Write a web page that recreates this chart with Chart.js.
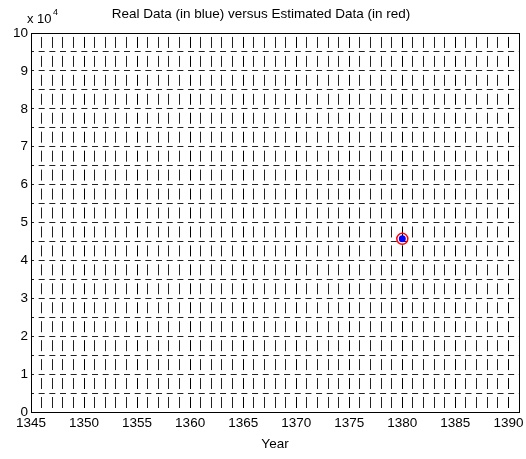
<!DOCTYPE html>
<html>
<head>
<meta charset="utf-8">
<script src="https://cdn.jsdelivr.net/npm/chart.js@4"></script>
<style>
  html, body { margin: 0; padding: 0; background: #fff; }
  canvas { display: block; }
</style>
</head>
<body>
<canvas id="grafico" width="526" height="459"></canvas>
<script>
// dados
const anos = [1380];
const dadosReais = [45700];
const dadosEstimados = [45700];
const anoMin = 1345;
const anoMax = 1391;
const yMax = 100000;

const fonte = "'Liberation Sans', Arial, sans-serif";

// caixa do eixo e o "x 10^4"
const caixaPlugin = {
  id: 'caixa',
  afterDraw(chart) {
    const { ctx, chartArea: a } = chart;
    ctx.save();
    ctx.strokeStyle = '#000';
    ctx.lineWidth = 1;
    ctx.strokeRect(Math.round(a.left) + 0.5, Math.round(a.top) + 0.5,
      Math.round(a.right - a.left), Math.round(a.bottom - a.top));
    ctx.fillStyle = '#000';
    ctx.textBaseline = 'alphabetic';
    ctx.font = '13px ' + fonte;
    ctx.fillText('x 10', 27, 23);
    ctx.font = '9px ' + fonte;
    ctx.fillText('4', 53, 15);
    ctx.restore();
  }
};

const pontos = (ys) => anos.map((x, i) => ({ x, y: ys[i] }));

new Chart(document.getElementById('grafico').getContext('2d'), {
  type: 'scatter',
  data: {
    datasets: [{
      label: 'Estimado',
      data: pontos(dadosEstimados),
      pointRadius: 5.5,
      pointBorderWidth: 1.5,
      pointBorderColor: '#ff0000',
      pointBackgroundColor: 'rgba(0,0,0,0)'
    }, {
      label: 'Real',
      data: pontos(dadosReais),
      pointRadius: 3.5,
      pointBorderWidth: 0,
      pointBackgroundColor: '#0000ff',
      pointBorderColor: '#0000ff'
    }]
  },
  options: {
    responsive: false,
    animation: false,
    layout: { padding: { left: 0, right: 4, top: 0, bottom: 0 } },
    plugins: {
      legend: { display: false },
      tooltip: { enabled: false },
      title: {
        display: true,
        text: 'Real Data (in blue) versus Estimated Data (in red)',
        color: '#000',
        font: { family: fonte, size: 13.5, weight: 'normal' },
        padding: { top: 6, bottom: 10.8 }
      }
    },
    scales: {
      x: {
        type: 'linear',
        min: anoMin,
        max: anoMax,
        afterFit: (s) => { s.height = 47; },
        ticks: {
          stepSize: 1,
          autoSkip: false,
          maxRotation: 0,
          padding: 3,
          color: '#000',
          font: { family: fonte, size: 13.5 },
          callback: (v) => (v % 5 === 0 && v <= 1390 ? String(v) : '')
        },
        grid: {
          drawTicks: false,
          lineWidth: 1,
          color: (c) => (c.tick && c.tick.value % 5 === 0 ? '#000' : '#222')
        },
        border: { display: false, dash: [11, 7.95], dashOffset: 15 },
        title: {
          display: true,
          text: 'Year',
          color: '#000',
          font: { family: fonte, size: 13.5 },
          padding: { top: 2, bottom: 7 }
        }
      },
      y: {
        min: 0,
        max: yMax,
        afterFit: (s) => { s.width = 31; },
        ticks: {
          stepSize: 5000,
          autoSkip: false,
          padding: 3,
          color: '#000',
          font: { family: fonte, size: 13.5 },
          callback: (v) => (v % 10000 === 0 ? String(v / 10000) : '')
        },
        grid: {
          drawTicks: false,
          lineWidth: 1,
          color: '#222'
        },
        border: { display: false, dash: [6, 4.67], dashOffset: 3 }
      }
    }
  },
  plugins: [caixaPlugin]
});
</script>
</body>
</html>
